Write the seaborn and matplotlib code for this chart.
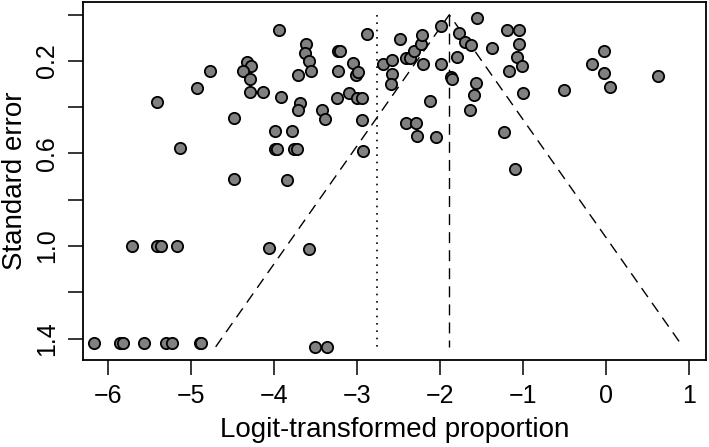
import matplotlib
matplotlib.use("Agg")
import matplotlib.pyplot as plt
import seaborn as sns
import pandas as pd
import numpy as np

# Logit-transformed proportions (x) and standard errors (y)
logit_prop = [
    -3.95, -3.614, -3.626, -3.586, -3.554, -3.714, -3.232, -3.21, -3.05, -3.232,
    -3.023, -2.987, -4.326, -4.286, -4.378, -4.781, -4.29, -4.933, -4.298, -4.137,
    -3.919, -3.244, -3.104, -3.002, -2.942, -5.416, -3.686, -3.714, -3.421, -3.393,
    -4.483, -2.942, -3.988, -3.787, -5.143, -3.988, -3.968, -3.759, -3.726, -2.930,
    -4.491, -3.847,
    -2.882, -2.688, -2.580, -2.488, -2.580, -2.600, -2.419, -2.367, -2.319, -2.238,
    -2.218, -2.206, -1.989, -1.997, -2.130, -2.419, -2.299, -2.278, -2.049, -1.876,
    -1.856, -1.795, -1.776, -1.707, -1.626, -1.562, -1.571, -1.595, -1.643, -1.373,
    -1.200, -1.059, -1.052, -1.080, -1.023, -1.173, -1.011, -1.233, -1.104, -0.516,
    -0.178, -0.026, -0.033, 0.046, 0.622,
    -6.173, -5.859, -5.819, -5.566, -5.304, -5.228, -4.902, -4.881,
    -5.710, -5.416, -5.364, -5.175, -4.069, -3.586, -3.505, -3.364,
]
std_err = [
    0.067, 0.125, 0.164, 0.201, 0.245, 0.261, 0.157, 0.157, 0.207, 0.245,
    0.262, 0.249, 0.203, 0.223, 0.243, 0.243, 0.279, 0.317, 0.334, 0.334,
    0.356, 0.359, 0.339, 0.360, 0.360, 0.378, 0.380, 0.411, 0.414, 0.453,
    0.448, 0.457, 0.503, 0.503, 0.577, 0.581, 0.581, 0.581, 0.581, 0.591,
    0.711, 0.714,
    0.084, 0.211, 0.197, 0.106, 0.258, 0.298, 0.185, 0.185, 0.157, 0.125,
    0.086, 0.211, 0.050, 0.211, 0.373, 0.467, 0.467, 0.523, 0.529, 0.269,
    0.276, 0.183, 0.077, 0.118, 0.132, 0.016, 0.294, 0.346, 0.412, 0.144,
    0.067, 0.067, 0.128, 0.183, 0.223, 0.243, 0.337, 0.509, 0.666, 0.327,
    0.211, 0.158, 0.250, 0.313, 0.263,
    1.418, 1.418, 1.418, 1.418, 1.418, 1.418, 1.418, 1.420,
    1.002, 1.002, 1.002, 1.002, 1.009, 1.013, 1.436, 1.436,
]

pooled_estimate = -1.893      # dashed vertical line / funnel centre
reference_line = -2.766       # dotted vertical line
se_max = 1.436                # funnel depth
z_crit = 1.96

x_ticks = [-6, -5, -4, -3, -2, -1, 0, 1]
y_ticks = [0.0, 0.2, 0.4, 0.6, 0.8, 1.0, 1.2, 1.4]
y_tick_labels = ["", "0.2", "", "0.6", "", "1.0", "", "1.4"]

df = pd.DataFrame({"x": logit_prop, "se": std_err})

sns.set_theme(style="white")
plt.rcParams["font.family"] = ["Liberation Sans", "DejaVu Sans"]

fig = plt.figure(figsize=(7.09, 4.47), dpi=100)
ax = fig.add_axes([0.1166, 0.1946, 0.9958 - 0.1166, 0.9955 - 0.1946])

# funnel lines
ax.plot([pooled_estimate - z_crit * se_max, pooled_estimate, pooled_estimate + z_crit * se_max],
        [se_max, 0.0, se_max], color="black", lw=1.0, dashes=(7.9, 5.1), zorder=1)
ax.plot([pooled_estimate, pooled_estimate], [0.0, se_max], color="black", lw=1.0,
        dashes=(7.9, 5.1), zorder=1)
ax.plot([reference_line, reference_line], [0.0, se_max], color="black", lw=1.2,
        dashes=(1.0, 3.4), zorder=1)

sns.scatterplot(data=df, x="x", y="se", ax=ax, color="#808080", edgecolor="black",
                linewidth=1.3, s=66, zorder=3, legend=False)

ax.set_xlim(-6.31, 1.20)
ax.set_ylim(1.493, -0.055)
ax.set_xticks(x_ticks)
ax.set_xticklabels([str(t).replace("-", "\u2212") for t in x_ticks])
ax.set_yticks(y_ticks)
ax.set_yticklabels(y_tick_labels, rotation=90, va="center")

ax.tick_params(axis="both", which="major", direction="out", length=11, width=1.1,
               color="black", labelsize=18, labelcolor="black", pad=6, bottom=True, left=True)
for sp in ax.spines.values():
    sp.set_visible(True)
    sp.set_color("black")
    sp.set_linewidth(1.3)

ax.set_xlabel("Logit-transformed proportion", fontsize=20, color="black", labelpad=7)
ax.set_ylabel("Standard error", fontsize=20, color="black", labelpad=5)

fig.savefig("out.png", dpi=100, facecolor="white")
